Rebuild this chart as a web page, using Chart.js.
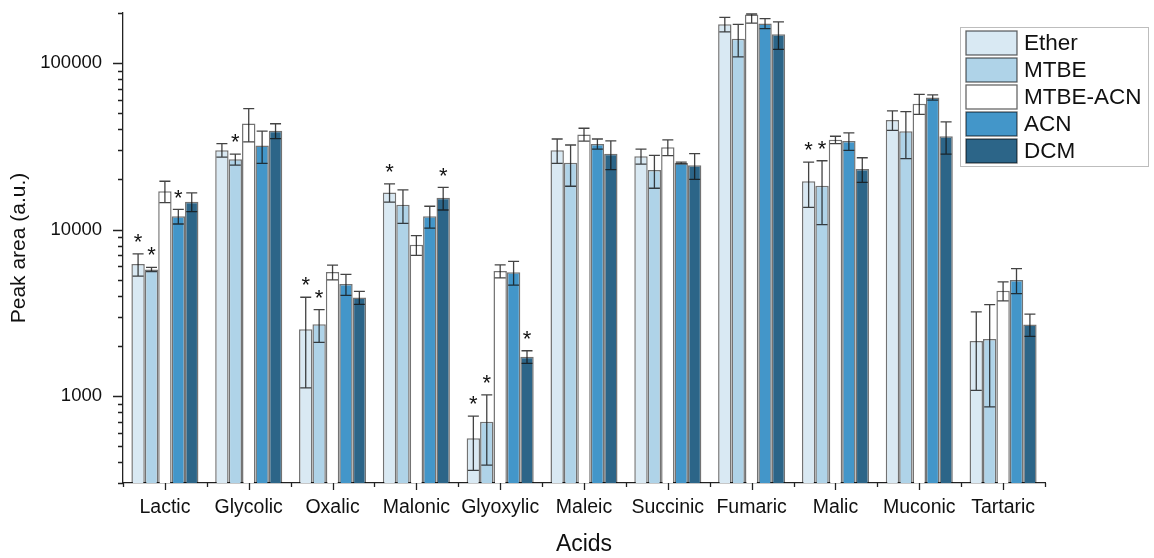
<!DOCTYPE html>
<html>
<head>
<meta charset="utf-8">
<script src="https://cdn.jsdelivr.net/npm/chart.js@4.4.0/dist/chart.umd.min.js"></script>
<style>
html,body{margin:0;padding:0;background:#fff;}
#wrap{width:1154px;height:558px;position:relative;}
</style>
</head>
<body>
<div id="wrap"><canvas id="c"></canvas></div>
<script>
const categories = ["Lactic","Glycolic","Oxalic","Malonic","Glyoxylic","Maleic","Succinic","Fumaric","Malic","Muconic","Tartaric"];
const seriesNames = ["Ether","MTBE","MTBE-ACN","ACN","DCM"];
const etherValues   = [6200, 30000, 2520, 16700, 557, 30000, 27600, 171000, 19500, 45500, 2140];
const etherSD       = [950, 2800, 1400, 2100, 200, 5000, 2850, 17000, 5900, 6100, 1060];
const mtbeValues    = [5750, 26400, 2700, 14100, 700, 25200, 22800, 140000, 18300, 38900, 2200];
const mtbeSD        = [170, 2000, 600, 3200, 316, 7000, 5100, 31000, 7600, 12200, 1340];
const mtbeAcnValues = [17000, 43400, 5550, 8100, 5630, 37300, 31200, 196000, 34600, 57000, 4290];
const mtbeAcnSD     = [2500, 9800, 560, 1100, 500, 3300, 3400, 22000, 1750, 7800, 560];
const acnValues     = [12000, 32000, 4700, 12000, 5530, 32700, 25100, 173000, 34000, 62200, 4970];
const acnSD         = [1200, 7000, 680, 1800, 900, 2300, 300, 12000, 4100, 2300, 850];
const dcmValues     = [14700, 39200, 3900, 15500, 1720, 28500, 24300, 149000, 23100, 36400, 2690];
const dcmSD         = [1900, 4000, 350, 2400, 150, 5600, 4300, 28000, 3900, 8000, 410];
// significance markers (category indices with "*")
const etherStars   = [0, 2, 3, 4, 8];
const mtbeStars    = [0, 1, 2, 4, 8];
const mtbeAcnStars = [];
const acnStars     = [0];
const dcmStars     = [3, 4];
const yTickLabels = [1000, 10000, 100000];
const yMin = 300, yMax = 200000;

const colors = ["#d9e9f3", "#afd3e8", "#ffffff", "#4396c9", "#2c6588"];
const valueSets = [etherValues, mtbeValues, mtbeAcnValues, acnValues, dcmValues];
const sdSets = [etherSD, mtbeSD, mtbeAcnSD, acnSD, dcmSD];
const starSets = [etherStars, mtbeStars, mtbeAcnStars, acnStars, dcmStars];
const FONT = "'Liberation Sans', Arial, sans-serif";

const datasets = seriesNames.map((n, i) => ({
  label: n,
  data: valueSets[i],
  sd: sdSets[i],
  stars: starSets[i],
  backgroundColor: colors[i],
  borderColor: "rgba(0,0,0,0.55)",
  borderWidth: 1.5,
  borderSkipped: 'bottom',
  categoryPercentage: 0.8,
  barPercentage: 1.0
}));

const errorBarPlugin = {
  id: 'errorBars',
  afterDatasetsDraw(chart) {
    const ctx = chart.ctx, ys = chart.scales.y, area = chart.chartArea;
    ctx.save();
    chart.data.datasets.forEach((ds, di) => {
      const meta = chart.getDatasetMeta(di);
      meta.data.forEach((el, i) => {
        const v = ds.data[i], sd = ds.sd[i];
        let yTop = ys.getPixelForValue(v + sd);
        let yBot = ys.getPixelForValue(Math.max(v - sd, yMin));
        yTop = Math.max(yTop, area.top + 1);
        const x = el.x, hw = 5.5;
        ctx.strokeStyle = "rgba(20,20,20,0.8)";
        ctx.lineWidth = 1.3;
        ctx.beginPath();
        ctx.moveTo(x, yTop); ctx.lineTo(x, yBot);
        ctx.moveTo(x - hw, yTop); ctx.lineTo(x + hw, yTop);
        ctx.moveTo(x - hw, yBot); ctx.lineTo(x + hw, yBot);
        ctx.stroke();
        if (ds.stars.includes(i)) {
          ctx.fillStyle = "#111";
          ctx.font = "22px " + FONT;
          ctx.textAlign = "center";
          ctx.textBaseline = "middle";
          ctx.fillText("*", x, yTop - 11);
        }
      });
    });
    ctx.restore();
  }
};

const axisTicksPlugin = {
  id: 'axisTicks',
  afterDraw(chart) {
    const ctx = chart.ctx, ys = chart.scales.y, xs = chart.scales.x, a = chart.chartArea;
    ctx.save();
    ctx.strokeStyle = "#222";
    ctx.lineWidth = 1.3;
    ctx.beginPath();
    for (let d = 100; d <= 100000; d *= 10) {
      for (let m = 1; m <= 9; m++) {
        const v = m * d;
        if (v < yMin || v > yMax) continue;
        const y = Math.round(ys.getPixelForValue(v)) + 0.5;
        const len = (m === 1) ? 10 : 5;
        ctx.moveTo(a.left, y); ctx.lineTo(a.left - len, y);
      }
    }
    const n = categories.length, w = (a.right - a.left) / n;
    for (let i = 0; i < n; i++) {
      const cx = Math.round(xs.getPixelForValue(i)) + 0.5;
      ctx.moveTo(cx, a.bottom); ctx.lineTo(cx, a.bottom + 7);
    }
    for (let i = 0; i <= n; i++) {
      const bx = Math.round(a.left + i * w) + 0.5;
      ctx.moveTo(bx, a.bottom); ctx.lineTo(bx, a.bottom + 4);
    }
    ctx.stroke();
    ctx.restore();
  }
};

const legendPlugin = {
  id: 'boxLegend',
  afterDraw(chart) {
    const ctx = chart.ctx;
    const bx = 960.5, by = 27.5, bw = 188, bh = 139;
    ctx.save();
    ctx.fillStyle = "#fff";
    ctx.fillRect(bx, by, bw, bh);
    ctx.strokeStyle = "#bdbdbd";
    ctx.lineWidth = 1;
    ctx.strokeRect(bx, by, bw, bh);
    chart.data.datasets.forEach((ds, i) => {
      const sy = 31 + i * 27;
      ctx.fillStyle = ds.backgroundColor;
      ctx.fillRect(966, sy, 51, 24);
      ctx.strokeStyle = "rgba(0,0,0,0.6)";
      ctx.lineWidth = 1.3;
      ctx.strokeRect(966, sy, 51, 24);
      ctx.fillStyle = "#111";
      ctx.font = "22.5px " + FONT;
      ctx.textAlign = "left";
      ctx.textBaseline = "middle";
      ctx.fillText(ds.label, 1024, sy + 13);
    });
    ctx.restore();
  }
};

new Chart(document.getElementById('c'), {
  type: 'bar',
  data: { labels: categories, datasets },
  options: {
    responsive: true,
    maintainAspectRatio: false,
    animation: false,
    layout: { padding: { top: 13, right: 109, left: 0, bottom: 0 } },
    plugins: { legend: { display: false }, tooltip: { enabled: false } },
    scales: {
      x: {
        grid: { display: false, drawTicks: false },
        border: { display: true, color: "#222", width: 1.3 },
        ticks: { color: "#111", font: { family: FONT, size: 19.5 }, padding: 13, maxRotation: 0, autoSkip: false },
        title: { display: true, text: "Acids", color: "#111", font: { family: FONT, size: 23 }, padding: { top: 1, bottom: 0 } },
        afterFit(s) { s.height = 75; s.paddingLeft = 0; s.paddingRight = 0; }
      },
      y: {
        type: 'logarithmic',
        min: yMin, max: yMax,
        grid: { display: false, drawTicks: false },
        border: { display: true, color: "#222", width: 1.3 },
        afterBuildTicks(s) { s.ticks = yTickLabels.map(v => ({ value: v })); },
        ticks: { color: "#111", font: { family: FONT, size: 18.5 }, padding: 21, callback: v => String(v) },
        title: { display: true, text: "Peak area (a.u.)", color: "#111", font: { family: FONT, size: 21 }, padding: { top: 7, bottom: 0 } },
        afterFit(s) { s.width = 123; s.paddingTop = 0; s.paddingBottom = 0; }
      }
    }
  },
  plugins: [errorBarPlugin, axisTicksPlugin, legendPlugin]
});
</script>
</body>
</html>
